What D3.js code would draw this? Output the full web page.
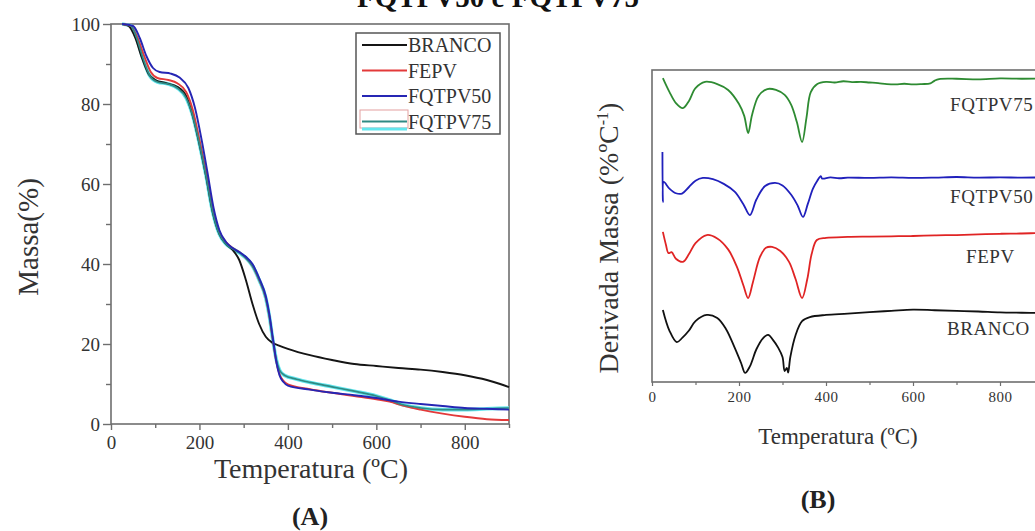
<!DOCTYPE html>
<html>
<head>
<meta charset="utf-8">
<script src="https://cdn.jsdelivr.net/npm/d3@7"></script>
<style>
  html, body { margin: 0; padding: 0; background: #fff; }
  svg { display: block; font-family: "Liberation Serif", "Times New Roman", serif; }
</style>
</head>
<body>
<svg id="chart" width="1035" height="531"></svg>
<script>
// ---- TGA (panel A): mass (%) vs temperature (°C) ----
const seriesNames = ["BRANCO", "FEPV", "FQTPV50", "FQTPV75"];

const tgaBranco = [[25,100],[40,99.5],[55,96.5],[70,91.5],[85,87.5],[100,86],[125,85.2],[150,84.3],[170,82],[185,77],[200,70],[215,62],[230,53],[245,47.5],[260,45],[275,43.5],[290,41],[305,36],[320,30],[335,25],[350,21.8],[365,20.3],[380,19.6],[400,18.8],[450,17.2],[500,16],[550,15],[600,14.5],[650,14],[700,13.6],[750,13],[800,12.2],[850,11],[880,10],[900,9.2]];
const tgaFepv = [[25,100],[45,99.5],[60,96.5],[75,92],[90,88],[105,86.5],[130,86],[150,85.2],[170,83],[185,78.5],[200,71],[215,63],[230,54],[245,48],[260,45.5],[275,44],[290,43],[305,41.5],[320,39.5],[335,36],[350,31.5],[358,27],[366,21],[374,15.5],[381,12.5],[390,10.8],[400,9.9],[450,8.7],[500,7.8],[550,7],[600,6.2],[630,5.6],[660,4.6],[700,3.6],[750,2.6],[800,1.8],[850,1.2],[900,1]];
const tgaFqtpv50 = [[25,100],[50,99.5],[65,96.5],[80,92],[95,89],[110,88],[135,87.6],[155,86.6],[175,84],[190,79],[205,71],[218,63],[232,54],[245,48.5],[260,45.5],[275,44],[290,43],[305,41.8],[320,40],[335,36.5],[350,32],[358,27.5],[366,21.5],[374,15.5],[381,12.2],[390,10.5],[400,9.6],[450,8.6],[500,7.8],[550,7.2],[600,6.5],[650,5.6],[700,5],[750,4.5],[800,4],[850,3.8],[900,3.6]];
const tgaFqtpv75 = [[25,100],[45,99.5],[58,96.5],[72,91.5],[88,87],[105,85.5],[130,85],[150,84],[170,81.5],[185,77],[200,70],[215,62],[230,53],[245,47.5],[260,45],[275,43.8],[290,42.8],[305,41.5],[320,39.5],[335,36],[350,31.5],[358,27],[366,21],[374,16],[381,13.5],[392,12.2],[420,11.2],[450,10.4],[500,9.3],[550,8.2],[600,7],[630,6],[660,4.8],[700,4],[750,3.6],[800,3.6],[850,3.8],[900,4]];

const tgaTicksX = [0, 200, 400, 600, 800];
const tgaTicksY = [0, 20, 40, 60, 80, 100];

// ---- DTG (panel B): stacked derivative curves, arbitrary units ----
const dtgFqtpv75 = [[25,97.4],[40,93],[55,89.4],[71,87.8],[85,90.1],[100,94.2],[122,96.2],[150,95.5],[175,93.6],[200,89.1],[212,85.3],[221,79.8],[230,85.6],[245,91.7],[265,93.9],[285,93.6],[305,92],[320,88.8],[333,83.3],[345,76.9],[355,84.6],[365,92.9],[380,95.5],[400,96.2],[420,96.0],[440,96.4],[460,96.1],[480,96.2],[500,96.0],[520,95.8],[540,95.5],[560,95.4],[580,95.6],[600,95.4],[620,95.5],[640,95.7],[650,96.6],[660,97.1],[700,97.2],[750,97.0],[800,97.3],[850,97.2],[900,97.3]];
const dtgFqtpv50 = [[24,73.7],[25,57.7],[27,64.1],[40,62],[55,60.5],[69,60.4],[85,62.5],[100,64.5],[117,65.4],[140,65],[165,63.5],[190,61],[210,57],[225,53.5],[240,58.5],[260,62.8],[283,63.8],[300,63],[320,60],[335,56.5],[347,52.9],[358,57],[370,62],[380,64.5],[388,66],[391,65.2],[410,65.6],[430,65.3],[450,65.5],[500,65.4],[550,65.6],[600,65.4],[650,65.5],[700,65.7],[750,65.5],[800,65.6],[850,65.5],[900,65.6]];
const dtgFepv = [[25,48.1],[32,44],[38,41.3],[45,41.6],[55,39.5],[71,38.5],[85,41],[100,44.5],[126,47.1],[150,46],[175,42.5],[195,37],[210,31],[221,26.9],[232,32],[248,40],[262,43],[276,43.3],[295,42],[315,38.5],[330,33],[345,26.9],[357,33],[367,41],[379,45.5],[400,46.2],[450,46.5],[500,46.6],[550,46.7],[600,46.8],[650,47.0],[700,47.1],[750,47.3],[800,47.5],[850,47.6],[900,47.8]];
const dtgBranco = [[25,23.1],[40,16.5],[57,12.8],[70,14.2],[85,16.5],[100,19.5],[126,21.5],[150,20.5],[170,17],[190,11],[205,6],[214,2.9],[225,5],[240,10.5],[255,14],[267,15.1],[278,13.5],[290,11],[300,8],[305,3.5],[310,4.5],[313,3],[318,8],[330,15],[345,19.5],[363,20.8],[400,21.5],[450,21.9],[500,22.4],[550,22.8],[600,23.2],[650,23],[700,22.8],[750,22.6],[800,22.3],[850,22.2],[900,22.1]];

const dtgTicksX = [0, 200, 400, 600, 800];

const svg = d3.select("#chart");
const axisColor = "#6e6e6e";

// ================= Panel A =================
const A = { left: 111, right: 509, top: 24, bottom: 424 };
const xA = d3.scaleLinear().domain([0, 900]).range([A.left, A.right]);
const yA = d3.scaleLinear().domain([0, 100]).range([A.bottom, A.top]);

const gA = svg.append("g");

// frame
gA.append("rect")
  .attr("x", A.left).attr("y", A.top)
  .attr("width", A.right - A.left).attr("height", A.bottom - A.top)
  .attr("fill", "none").attr("stroke", axisColor).attr("stroke-width", 1.6);

// minor ticks
const axA_xMinor = d3.axisBottom(xA).tickValues([100, 300, 500, 700, 900]).tickSize(4).tickFormat("");
const axA_yMinor = d3.axisLeft(yA).tickValues([10, 30, 50, 70, 90]).tickSize(5).tickFormat("");
gA.append("g").attr("transform", `translate(0,${A.bottom})`).call(axA_xMinor);
gA.append("g").attr("transform", `translate(${A.left},0)`).call(axA_yMinor);

// major ticks
const axA_x = d3.axisBottom(xA).tickValues(tgaTicksX).tickSize(6).tickPadding(6).tickFormat(d3.format("d"));
const axA_y = d3.axisLeft(yA).tickValues(tgaTicksY).tickSize(8).tickPadding(3).tickFormat(d3.format("d"));
gA.append("g").attr("transform", `translate(0,${A.bottom})`).call(axA_x);
const gAy = gA.append("g").attr("transform", `translate(${A.left},0)`).call(axA_y);

gA.selectAll(".domain").remove();
gA.selectAll(".tick line").attr("stroke", axisColor).attr("stroke-width", 1.4);
gA.selectAll(".tick text").attr("font-family", "Liberation Serif").attr("font-size", 19).attr("fill", "#333");
gAy.selectAll(".tick text").attr("dy", "0.34em");

const lineA = d3.line().x(d => xA(d[0])).y(d => yA(d[1])).curve(d3.curveMonotoneX);

const curvesA = gA.append("g");
curvesA.append("path").datum(tgaFqtpv75).attr("d", lineA)
  .attr("fill", "none").attr("stroke", "#62e6ee").attr("stroke-width", 3.6);
curvesA.append("path").datum(tgaBranco).attr("d", lineA)
  .attr("fill", "none").attr("stroke", "#151515").attr("stroke-width", 1.9);
curvesA.append("path").datum(tgaFepv).attr("d", lineA)
  .attr("fill", "none").attr("stroke", "#e33a3a").attr("stroke-width", 1.9);
curvesA.append("path").datum(tgaFqtpv75).attr("d", lineA)
  .attr("fill", "none").attr("stroke", "#2f8a84").attr("stroke-width", 1.7);
curvesA.append("path").datum(tgaFqtpv50).attr("d", lineA)
  .attr("fill", "none").attr("stroke", "#2626b4").attr("stroke-width", 1.9);

// axis titles
gA.append("text")
  .attr("transform", `translate(38,237) rotate(-90)`)
  .attr("text-anchor", "middle").attr("font-size", 29).attr("fill", "#333")
  .text("Massa(%)");
gA.append("text")
  .attr("x", 311).attr("y", 478)
  .attr("text-anchor", "middle").attr("font-size", 28).attr("fill", "#333")
  .text("Temperatura (ºC)");
gA.append("text")
  .attr("x", 310).attr("y", 525)
  .attr("text-anchor", "middle").attr("font-size", 26).attr("font-weight", "bold").attr("fill", "#222")
  .text("(A)");

// legend
const legendColors = ["#151515", "#e33a3a", "#2626b4", "#2f8a84"];
const legend = gA.append("g");
legend.append("rect")
  .attr("x", 356).attr("y", 33).attr("width", 144).attr("height", 101)
  .attr("fill", "#fff").attr("stroke", "#555").attr("stroke-width", 1.5);
seriesNames.forEach((name, i) => {
  const y = 45 + i * 25.5;
  legend.append("line")
    .attr("x1", 362).attr("x2", 407).attr("y1", y).attr("y2", y)
    .attr("stroke", legendColors[i]).attr("stroke-width", 2);
  legend.append("text")
    .attr("x", 408).attr("y", y + 7)
    .attr("font-size", 20).attr("fill", "#333")
    .text(name);
});
// extra swatch parts of the FQTPV75 entry
legend.append("rect")
  .attr("x", 360).attr("y", 110).attr("width", 48).attr("height", 18)
  .attr("fill", "none").attr("stroke", "#e4a0a0").attr("stroke-width", 1);
legend.append("line")
  .attr("x1", 362).attr("x2", 407).attr("y1", 129).attr("y2", 129)
  .attr("stroke", "#62e6ee").attr("stroke-width", 3);

// ================= Panel B =================
const B = { left: 652, right: 1043.5, top: 70, bottom: 382 };
const xB = d3.scaleLinear().domain([0, 900]).range([B.left, B.right]);
const yB = d3.scaleLinear().domain([0, 100]).range([B.bottom, B.top]);

const gB = svg.append("g");
gB.append("rect")
  .attr("x", B.left).attr("y", B.top)
  .attr("width", B.right - B.left).attr("height", B.bottom - B.top)
  .attr("fill", "none").attr("stroke", axisColor).attr("stroke-width", 1.6);

const axB_minor = d3.axisBottom(xB).tickValues([100, 300, 500, 700]).tickSize(3).tickFormat("");
const axB_x = d3.axisBottom(xB).tickValues(dtgTicksX).tickSize(4).tickPadding(5).tickFormat(d3.format("d"));
gB.append("g").attr("transform", `translate(0,${B.bottom})`).call(axB_minor);
gB.append("g").attr("transform", `translate(0,${B.bottom})`).call(axB_x);
gB.selectAll(".domain").remove();
gB.selectAll(".tick line").attr("stroke", axisColor).attr("stroke-width", 1.2);
gB.selectAll(".tick text").attr("font-family", "Liberation Serif").attr("font-size", 15).attr("letter-spacing", 0.5).attr("fill", "#333");

const lineB = d3.line().x(d => xB(d[0])).y(d => yB(d[1])).curve(d3.curveCatmullRom.alpha(0.5));

const dtgSeries = [
  { name: "FQTPV75", data: dtgFqtpv75, color: "#2e8b32", lx: 950, ly: 111 },
  { name: "FQTPV50", data: dtgFqtpv50, color: "#2020bc", lx: 950, ly: 203 },
  { name: "FEPV",    data: dtgFepv,    color: "#e02424", lx: 966, ly: 263 },
  { name: "BRANCO",  data: dtgBranco,  color: "#111111", lx: 947, ly: 335 }
];
dtgSeries.forEach(s => {
  gB.append("path").datum(s.data).attr("d", lineB)
    .attr("fill", "none").attr("stroke", s.color).attr("stroke-width", 1.8)
    .attr("stroke-linejoin", "round");
  gB.append("text")
    .attr("x", s.lx).attr("y", s.ly)
    .attr("font-size", 19).attr("letter-spacing", 0.6).attr("fill", "#333")
    .text(s.name);
});

gB.append("text")
  .attr("transform", `translate(618,238) rotate(-90)`)
  .attr("text-anchor", "middle").attr("font-size", 28).attr("fill", "#333")
  .html('Derivada Massa (%ºC<tspan dy="-10" font-size="16">-1</tspan><tspan dy="10">)</tspan>');
gB.append("text")
  .attr("x", 838).attr("y", 444)
  .attr("text-anchor", "middle").attr("font-size", 23).attr("fill", "#333")
  .text("Temperatura (ºC)");
gB.append("text")
  .attr("x", 818).attr("y", 508)
  .attr("text-anchor", "middle").attr("font-size", 26).attr("font-weight", "bold").attr("fill", "#222")
  .text("(B)");

// heading, running off the top edge
svg.append("text")
  .attr("x", 498).attr("y", 7)
  .attr("text-anchor", "middle").attr("font-size", 29).attr("font-weight", "bold").attr("fill", "#111")
  .text("FQTPV50 e FQTPV75");
</script>
</body>
</html>
